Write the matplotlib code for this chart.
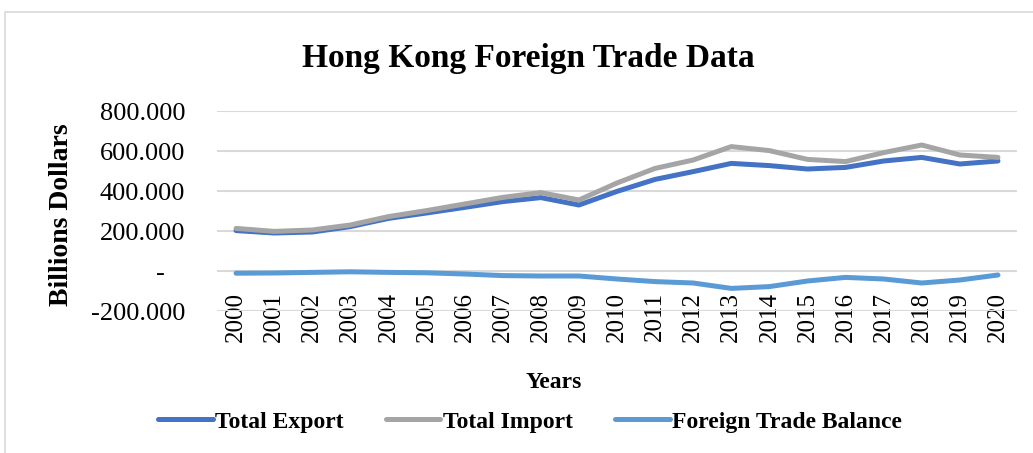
import matplotlib
matplotlib.use("Agg")
import matplotlib.pyplot as plt
from matplotlib.patches import Rectangle
from matplotlib.lines import Line2D

years = [str(y) for y in range(2000, 2021)]
total_export = [202, 190, 195, 222, 263, 290, 318, 347, 367, 330,
                398, 458, 497, 538, 527, 510, 518, 550, 568, 535, 550]
total_import = [213, 198, 205, 230, 272, 302, 335, 368, 392, 355,
                440, 513, 555, 622, 602, 558, 547, 592, 630, 580, 568]
trade_balance = [-11, -10, -7, -4, -7, -9, -15, -23, -25, -25,
                 -40, -53, -60, -87, -78, -50, -32, -40, -60, -45, -20]
series_names = ["Total Export", "Total Import", "Foreign Trade Balance"]
colors = ["#4472C4", "#A5A5A5", "#5B9BD5"]
yticks = [-200, 0, 200, 400, 600, 800]

W, H = 1033, 453
fig = plt.figure(figsize=(W / 100, H / 100), dpi=100)
serif = ["Liberation Serif", "DejaVu Serif"]

# outer chart frame
fig.patches.append(Rectangle((5 / W, -0.1), 1.2, (H - 12) / H + 0.1,
                             transform=fig.transFigure, fill=False,
                             edgecolor="#D9D9D9", linewidth=1.2))

ax = fig.add_axes([217 / W, (H - 311) / H, 800 / W, 200 / H])
ax.spines["bottom"].set_position(("data", 0))
for s in ax.spines.values():
    s.set_color("none")

x = list(range(len(years)))
for vals, c, name in zip([total_export, total_import, trade_balance], colors, series_names):
    ax.plot(x, vals, color=c, linewidth=3.6, solid_capstyle="round",
            solid_joinstyle="round", label=name, zorder=3)
ax.set_xlim(-0.5, len(years) - 0.5)
ax.set_ylim(-200, 800)
ax.set_yticks(yticks)
ax.set_yticklabels(["-   " if v == 0 else f"{v:.3f}" for v in yticks],
                   fontfamily=serif, fontsize=19)
ax.set_xticks(x)
ax.set_xticklabels(years, rotation=90, fontfamily=serif, fontsize=18)
ax.tick_params(axis="y", length=0, pad=23)
ax.tick_params(axis="x", length=0, pad=15)
ax.grid(axis="y", color="#D9D9D9", linewidth=1.5, zorder=0)
ax.set_axisbelow(True)

fig.text(528 / W, 1 - 58 / H, "Hong Kong Foreign Trade Data", ha="center", va="center",
         fontfamily=serif, fontweight="bold", fontsize=24)
fig.text(554 / W, 1 - 382 / H, "Years", ha="center", va="center",
         fontfamily=serif, fontweight="bold", fontsize=17)
fig.text(62 / W, 1 - 215 / H, "Billions Dollars", ha="center", va="center", rotation=90,
         fontfamily=serif, fontweight="bold", fontsize=20)

handles = [Line2D([0], [0], color=c, linewidth=3.6, solid_capstyle="round") for c in colors]
fig.legend(handles, series_names, loc="center", bbox_to_anchor=(530 / W, 1 - 422 / H),
           ncol=3, frameon=False, handlelength=2.3, handletextpad=0.1, columnspacing=1.8,
           prop={"family": serif, "weight": "bold", "size": 17})

fig.savefig("out.png", dpi=100)
